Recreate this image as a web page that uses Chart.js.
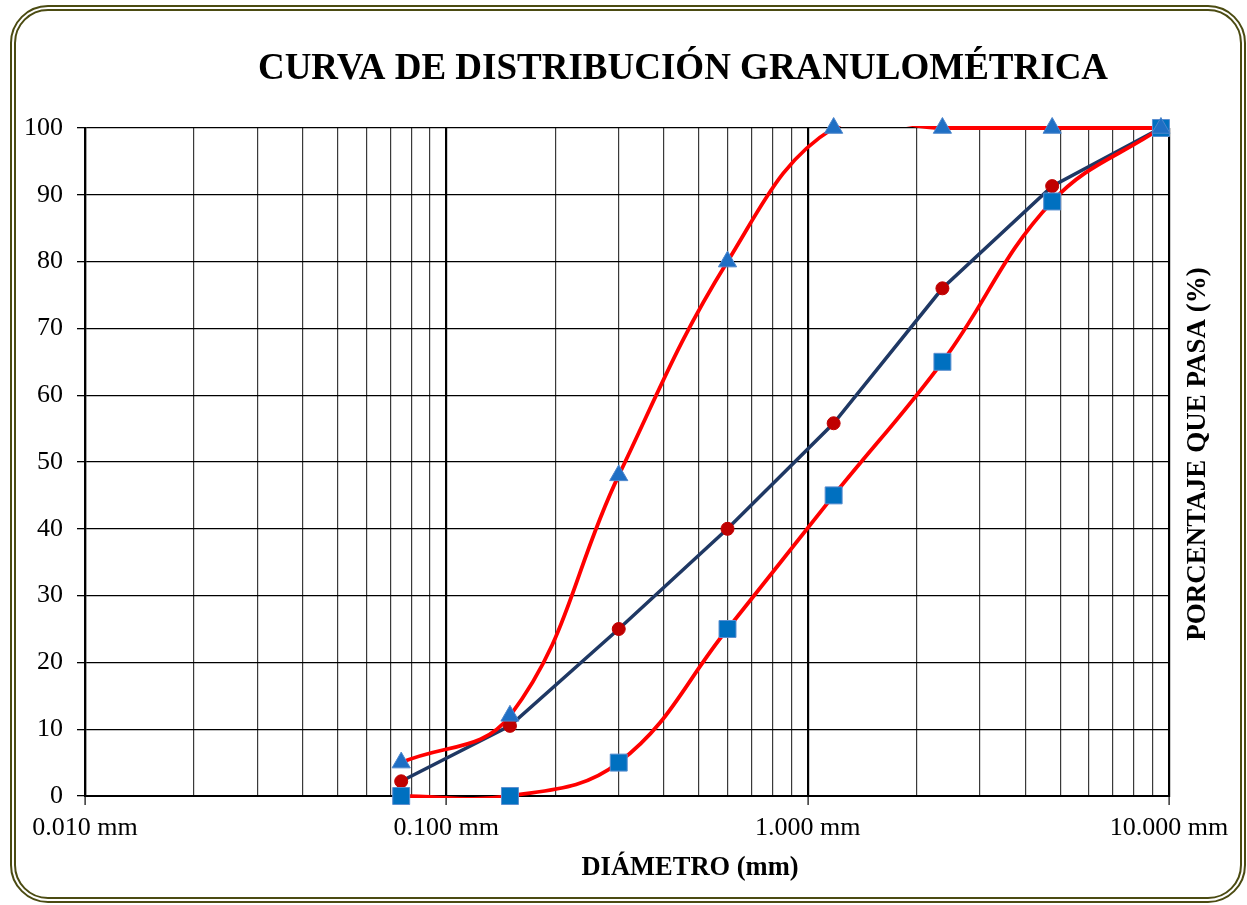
<!DOCTYPE html>
<html>
<head>
<meta charset="utf-8">
<script src="https://cdn.jsdelivr.net/npm/chart.js@4/dist/chart.umd.min.js"></script>
<style>
    body { margin: 0; background: #fff; }
    #marco {
        position: absolute; left: 10px; top: 5px; width: 1224px; height: 886px;
        border: 6px double #4b4b12; border-radius: 38px;
    }
    #wrap { position: absolute; left: 0; top: 0; width: 1247px; height: 905px; }
</style>
</head>
<body>
<div id="marco"></div>
<div id="wrap"><canvas id="chart" width="1247" height="905"></canvas></div>
<script>
// abertura de tamices (mm)
const tamices = [0.075, 0.15, 0.3, 0.6, 1.18, 2.36, 4.75, 9.5];
// % que pasa
const limiteSuperior = [5, 12, 48, 80, 100, 100, 100, 100];
const limiteInferior = [0, 0, 5, 25, 45, 65, 89, 100];
const muestra = [2.2, 10.5, 25, 40, 55.8, 76, 91.3, 100];
// marcas del eje x (escala log)
const ticksX = [0.01, 0.02, 0.03, 0.04, 0.05, 0.06, 0.07, 0.08, 0.09,
    0.1, 0.2, 0.3, 0.4, 0.5, 0.6, 0.7, 0.8, 0.9,
    1, 2, 3, 4, 5, 6, 7, 8, 9, 10];

const titulo = "CURVA DE DISTRIBUCIÓN GRANULOMÉTRICA";
const tituloX = "DIÁMETRO (mm)";
const tituloY = "PORCENTAJE QUE PASA (%)";

const serif = "'Liberation Serif', 'Times New Roman', serif";
const azul = "#1f6fc4";

const pts = arr => tamices.map((x, i) => ({ x: x, y: arr[i] }));
const esDecada = v => Math.abs(Math.log10(v) - Math.round(Math.log10(v))) < 1e-6;

let textos = {
    id: "textos",
    afterDraw(chart) {
        let ctx = chart.ctx;
        ctx.save();
        ctx.fillStyle = "#000";
        ctx.textAlign = "center";
        ctx.textBaseline = "middle";
        ctx.font = `bold 37px ${serif}`;
        ctx.fillText(titulo, 683, 69);
        ctx.font = `bold 26.5px ${serif}`;
        ctx.fillText(tituloX, 690, 868);
        ctx.font = `bold 27px ${serif}`;
        ctx.translate(1198, 454);
        ctx.rotate(-Math.PI / 2);
        ctx.fillText(tituloY, 0, 0);
        ctx.restore();
    }
};

let lineas = (data, color) => ({
    data: pts(data), borderColor: color, borderWidth: 3.8, pointRadius: 0,
    fill: false, clip: { left: 5, right: 5, top: 2, bottom: 2 }
});

new Chart(document.getElementById("chart"), {
    type: 'line',
    data: {
        datasets: [
            { data: pts(limiteSuperior), showLine: false, pointStyle: 'triangle', pointRadius: 10.5,
              backgroundColor: azul, borderColor: "#4d86cc", borderWidth: 1, clip: false },
            { data: pts(limiteInferior), showLine: false, pointStyle: 'rect', pointRadius: 12,
              backgroundColor: "#0070c0", borderColor: "#5b8fd0", borderWidth: 1, clip: false },
            { data: pts(muestra), showLine: false, pointStyle: 'circle', pointRadius: 6.5,
              backgroundColor: "#c00000", borderColor: "#c00000", borderWidth: 1, clip: false },
            Object.assign(lineas(limiteSuperior, "#ff0000"), { tension: 0.4 }),
            Object.assign(lineas(limiteInferior, "#ff0000"), { tension: 0.4 }),
            Object.assign(lineas(muestra, "#1f3864"), { tension: 0, borderWidth: 3.5 })
        ]
    },
    options: {
        responsive: false,
        animation: false,
        elements: { line: { capBezierPoints: false } },
        layout: { padding: { left: 0, right: 78, top: 128, bottom: 0 } },
        plugins: { legend: { display: false }, tooltip: { enabled: false }, title: { display: false } },
        scales: {
            x: {
                type: 'logarithmic',
                min: 0.01, max: 10,
                afterBuildTicks: s => { s.ticks = ticksX.map(v => ({ value: v })); },
                afterFit: s => { s.height = 109; },
                ticks: {
                    autoSkip: false, maxRotation: 0, padding: 8,
                    color: "#000", font: { family: serif, size: 26 },
                    callback: v => esDecada(v) ? Number(v).toFixed(3) + " mm" : ""
                },
                grid: {
                    color: c => esDecada(c.tick.value) ? "#000" : "#3a3a3a",
                    lineWidth: c => esDecada(c.tick.value) ? 2.2 : 1.2,
                    tickColor: c => esDecada(c.tick.value) ? "#000" : "rgba(0,0,0,0)",
                    tickLength: 9, tickWidth: 1.2
                },
                border: { display: true, color: "#000", width: 2 }
            },
            y: {
                min: 0, max: 100,
                afterFit: s => { s.width = 85; },
                ticks: { stepSize: 10, padding: 14, color: "#000", font: { family: serif, size: 26 } },
                grid: { color: "#000", lineWidth: 1.3, tickLength: 8, tickColor: "#000" },
                border: { display: true, color: "#000", width: 2.2 }
            }
        }
    },
    plugins: [textos]
});
</script>
</body>
</html>
